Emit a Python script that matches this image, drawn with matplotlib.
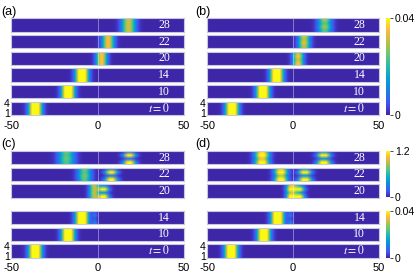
import numpy as np
import matplotlib
matplotlib.use("Agg")
import matplotlib.pyplot as plt
from matplotlib.colors import LinearSegmentedColormap

plt.rcParams['font.family'] = ['Liberation Sans', 'DejaVu Sans']
plt.rcParams['mathtext.fontset'] = 'stix'

# strip labels, top to bottom
labels = ["28", "22", "20", "14", "10", "$t=0$"]

# (a) one pulse per strip, same in all 4 rows
a_center = [18, 6.2, 2.4, -9, -17, -36]
a_sigma = [2.8, 2.4, 2.2, 2.5, 2.5, 2.5]
a_peak = [0.032, 0.035, 0.036, 0.055, 0.055, 0.055]

# (b) one pulse per strip, row values y=1..4
b_center = [18.5, 6.5, 3, -9.5, -17.5, -35.5]
b_sigma = [2.8, 2.4, 2.2, 2.5, 2.5, 2.5]
b_peak = [[0.024, 0.029, 0.024, 0.029],
          [0.030, 0.034, 0.030, 0.034],
          [0.036, 0.031, 0.036, 0.031],
          [0.055, 0.055, 0.055, 0.055],
          [0.055, 0.055, 0.055, 0.055],
          [0.055, 0.055, 0.055, 0.055]]

# (c),(d) upper strips (t = 28, 22, 20): two pulses, scale 0..1.2
c_left_center = [-18, -7.5, -2]
c_left_sigma = [3.3, 2.8, 2.0]
c_left_peak = [[0.70, 0.76, 0.70, 0.76],
               [0.72, 0.78, 0.72, 0.78],
               [0.85, 0.90, 0.85, 0.90]]
c_right_center = [18.5, 8, 3.5]
c_right_sigma = [2.5, 2.5, 2.2]
c_right_peak = [[1.3, 0.25, 1.3, 0.25],
                [1.3, 0.30, 1.3, 0.30],
                [1.3, 0.40, 1.3, 0.40]]

d_left_center = [-18, -7, -1]
d_left_sigma = [2.8, 2.6, 2.0]
d_left_peak = [[1.4, 1.05, 1.4, 1.15],
               [1.4, 0.95, 1.4, 1.05],
               [1.3, 0.9, 1.3, 1.0]]
d_right_center = [18, 7, 3.5]
d_right_sigma = [2.7, 2.6, 2.2]
d_right_peak = [[1.4, 0.40, 1.4, 0.40],
                [1.4, 0.40, 1.4, 0.40],
                [1.3, 0.50, 1.3, 0.50]]

# (c),(d) lower strips (t = 14, 10, 0), scale 0..0.04
low_center = [-9, -17, -36]
low_sigma = [2.5, 2.5, 2.5]
low_peak = [0.055, 0.055, 0.055]
ripple_center = -1.5
ripple_peak = [0.010, 0.004, 0.010, 0.004]

parula = LinearSegmentedColormap.from_list("parula", [
    (0.000, (0.2422, 0.1504, 0.6603)),
    (0.125, (0.2650, 0.3300, 0.9700)),
    (0.250, (0.1000, 0.5000, 0.8900)),
    (0.375, (0.0200, 0.6300, 0.8400)),
    (0.500, (0.1500, 0.7300, 0.6700)),
    (0.625, (0.4000, 0.7800, 0.4700)),
    (0.750, (0.7300, 0.7500, 0.2700)),
    (0.875, (0.9900, 0.7300, 0.2400)),
    (0.940, (0.9700, 0.8500, 0.1600)),
    (1.000, (0.9770, 0.9840, 0.0800))])

x = np.linspace(-50, 50, 501)


def pulse(c, s, rows):
    g = np.exp(-0.5 * ((x - c) / s) ** 2)
    return np.array(rows)[:, None] * g[None, :]


W, H = 415.0, 272.0
fig = plt.figure(figsize=(4.15, 2.72), dpi=100)

strip_h = 13.3
top_tops = [18.3 + 16.7 * k for k in range(6)]
bot_tops = [151, 167.7, 184.3, 211, 227.7, 244.3]
col_x = [(11, 173), (207, 172)]


def strip(px, top, Z, vmax, label, last):
    ax = fig.add_axes([px[0] / W, 1 - (top + strip_h) / H, px[1] / W, strip_h / H])
    ax.imshow(Z, cmap=parula, vmin=0, vmax=vmax, aspect='auto', origin='lower',
              extent=(-50, 50, 0.5, 4.5), interpolation='bilinear')
    ax.axvline(0, color='white', lw=0.6, alpha=0.45)
    ax.text(42, 2.5, label, color='white', ha='right', va='center',
            fontsize=8.5, family='Liberation Serif')
    for sp in ax.spines.values():
        sp.set_color('#c8c8dc')
        sp.set_linewidth(0.8)
    ax.tick_params(length=0, labelsize=8, pad=1)
    if last:
        ax.set_xticks([-50, 0, 50])
        ax.set_xticklabels(['-50', '0', '50'])
        ax.tick_params(axis='x', pad=4)
        ax.set_yticks([1, 4])
        ax.set_yticklabels(['1', '4'], fontsize=7.5)
    else:
        ax.set_xticks([])
        ax.set_yticks([])
    return ax


# (a)
for k in range(6):
    Z = pulse(a_center[k], a_sigma[k], [a_peak[k]] * 4)
    strip(col_x[0], top_tops[k], Z, 0.04, labels[k], k == 5)

# (b)
for k in range(6):
    Z = pulse(b_center[k], b_sigma[k], b_peak[k])
    ax = strip(col_x[1], top_tops[k], Z, 0.04, labels[k], k == 5)
im_b = ax.images[0]

# (c) and (d)
sets = [(col_x[0], c_left_center, c_left_sigma, c_left_peak,
         c_right_center, c_right_sigma, c_right_peak),
        (col_x[1], d_left_center, d_left_sigma, d_left_peak,
         d_right_center, d_right_sigma, d_right_peak)]
for px, lc, ls, lp, rc, rs, rp in sets:
    for k in range(3):
        Z = pulse(lc[k], ls[k], lp[k]) + pulse(rc[k], rs[k], rp[k])
        ax_hi = strip(px, bot_tops[k], Z, 1.2, labels[k], False)
    for k in range(3):
        Z = pulse(low_center[k], low_sigma[k], [low_peak[k]] * 4)
        if k == 0:
            Z = Z + pulse(ripple_center, 1.0, ripple_peak)
        ax_lo = strip(px, bot_tops[k + 3], Z, 0.04, labels[k + 3], k == 2)


def cbar(im, bottom, height, ticks, ticklabels):
    cax = fig.add_axes([386 / W, 1 - bottom / H, 4 / W, height / H])
    cb = fig.colorbar(im, cax=cax)
    cb.set_ticks(ticks)
    cb.set_ticklabels(ticklabels)
    cb.outline.set_visible(False)
    cax.tick_params(labelsize=7.5, length=2, width=0.5, pad=1.5)


cbar(im_b, 115, 97, [0, 0.04], ['0', '0.04'])
cbar(ax_hi.images[0], 197, 46, [0, 1.2], ['0', '1.2'])
cbar(ax_lo.images[0], 257.7, 46.7, [0, 0.04], ['0', '0.04'])

for lab, (px, py) in zip(['(a)', '(b)', '(c)', '(d)'],
                         [(1, 12), (195, 12), (1, 144), (195, 144)]):
    fig.text(px / W, 1 - py / H, lab, fontsize=9, va='center', ha='left')

fig.savefig("out.png", dpi=100)
